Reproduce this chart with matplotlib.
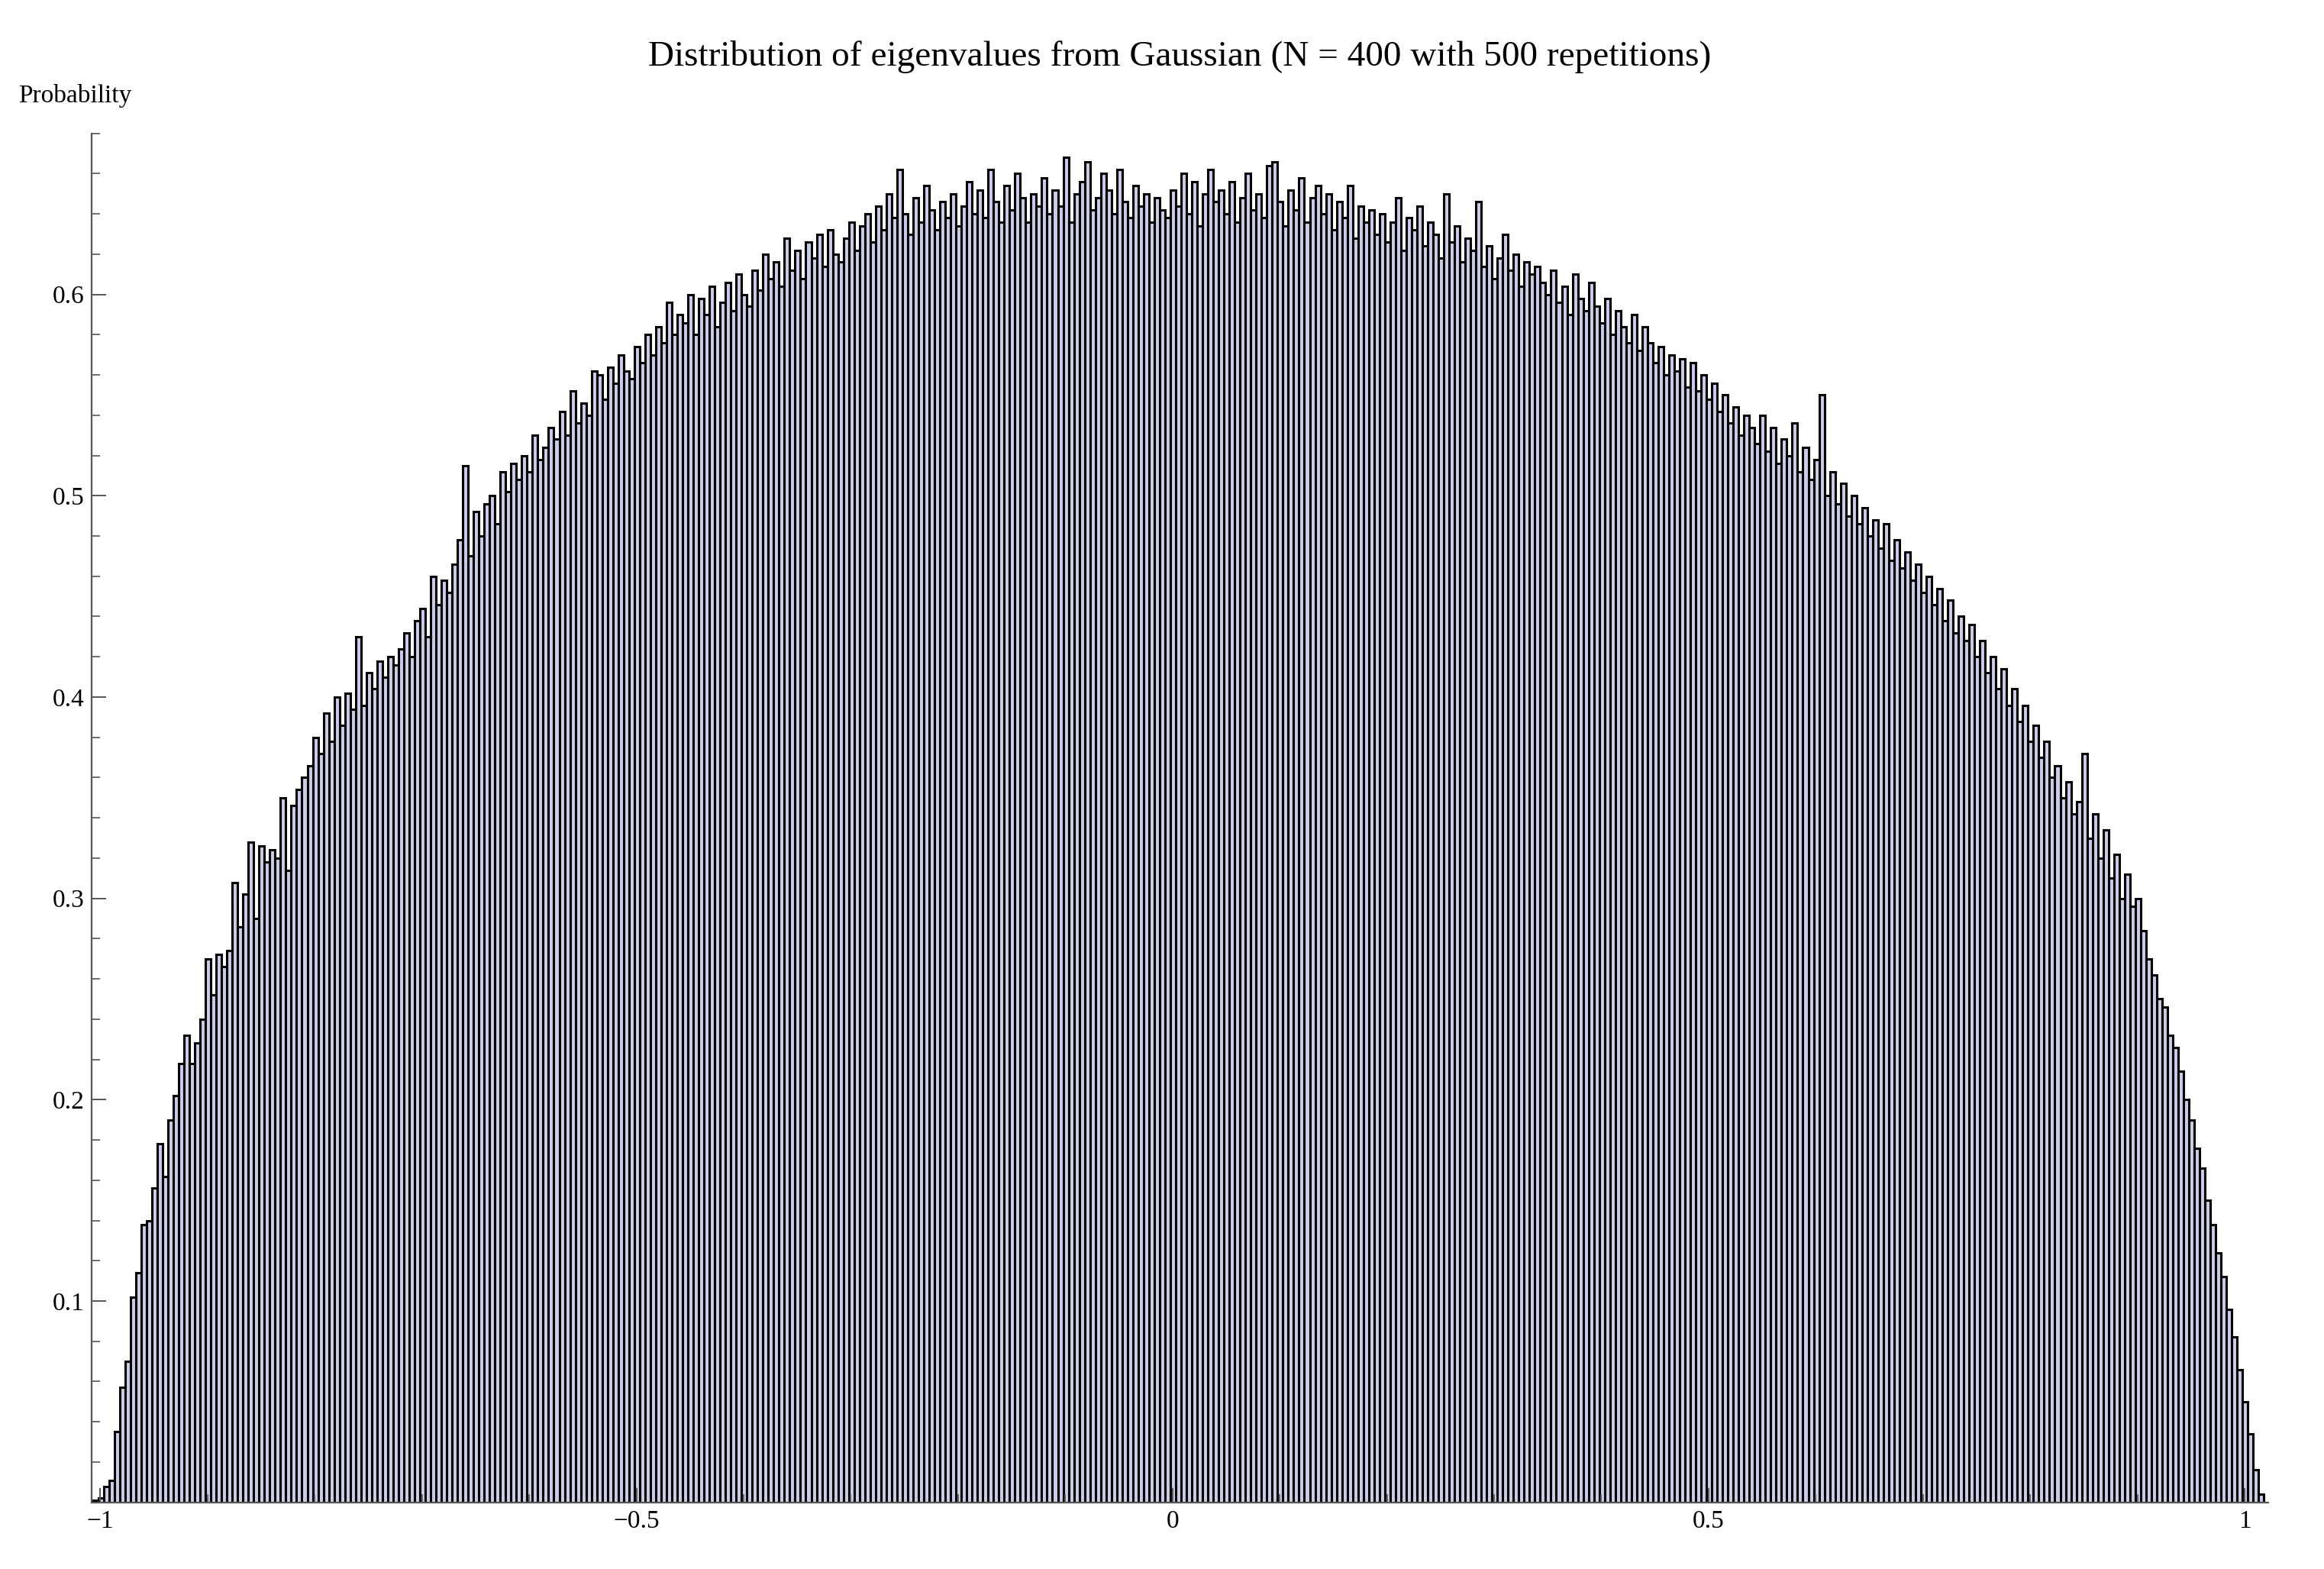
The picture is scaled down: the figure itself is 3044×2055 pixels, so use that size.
import numpy as np
from matplotlib import pyplot as plt
from matplotlib.ticker import MultipleLocator

BIN_START = -1.007
BIN_WIDTH = 0.005

# bar heights, left to right, ten bins per row (0.05 wide)
heights = [
    0.001, 0.002, 0.008, 0.011, 0.035, 0.057, 0.070, 0.102, 0.114, 0.138,
    0.140, 0.156, 0.178, 0.162, 0.190, 0.202, 0.218, 0.232, 0.218, 0.228,
    0.240, 0.270, 0.252, 0.272, 0.266, 0.274, 0.308, 0.286, 0.302, 0.328,
    0.290, 0.326, 0.318, 0.324, 0.320, 0.350, 0.314, 0.346, 0.354, 0.360,
    0.366, 0.380, 0.372, 0.392, 0.378, 0.400, 0.386, 0.402, 0.394, 0.430,
    0.396, 0.412, 0.404, 0.418, 0.410, 0.420, 0.416, 0.424, 0.432, 0.420,
    0.438, 0.444, 0.430, 0.460, 0.446, 0.458, 0.452, 0.466, 0.478, 0.515,
    0.470, 0.492, 0.480, 0.496, 0.500, 0.486, 0.512, 0.502, 0.516, 0.508,
    0.520, 0.512, 0.530, 0.518, 0.524, 0.534, 0.528, 0.542, 0.530, 0.552,
    0.536, 0.546, 0.540, 0.562, 0.560, 0.548, 0.564, 0.556, 0.570, 0.562,
    0.558, 0.574, 0.566, 0.580, 0.570, 0.584, 0.576, 0.596, 0.580, 0.590,
    0.586, 0.600, 0.580, 0.598, 0.590, 0.604, 0.584, 0.596, 0.606, 0.592,
    0.610, 0.600, 0.594, 0.612, 0.602, 0.620, 0.608, 0.616, 0.604, 0.628,
    0.612, 0.622, 0.608, 0.626, 0.618, 0.630, 0.614, 0.632, 0.620, 0.616,
    0.628, 0.636, 0.622, 0.634, 0.640, 0.626, 0.644, 0.632, 0.650, 0.638,
    0.662, 0.640, 0.630, 0.648, 0.636, 0.654, 0.642, 0.632, 0.646, 0.638,
    0.650, 0.634, 0.644, 0.656, 0.640, 0.652, 0.638, 0.662, 0.646, 0.636,
    0.654, 0.642, 0.660, 0.648, 0.636, 0.650, 0.644, 0.658, 0.640, 0.652,
    0.644, 0.668, 0.636, 0.650, 0.656, 0.666, 0.642, 0.648, 0.660, 0.652,
    0.640, 0.662, 0.646, 0.638, 0.654, 0.644, 0.650, 0.636, 0.648, 0.642,
    0.638, 0.652, 0.644, 0.660, 0.640, 0.656, 0.634, 0.650, 0.662, 0.646,
    0.652, 0.640, 0.656, 0.636, 0.648, 0.660, 0.642, 0.650, 0.638, 0.664,
    0.666, 0.646, 0.634, 0.652, 0.642, 0.658, 0.636, 0.648, 0.654, 0.640,
    0.650, 0.632, 0.646, 0.638, 0.654, 0.628, 0.644, 0.636, 0.642, 0.630,
    0.640, 0.626, 0.636, 0.648, 0.622, 0.638, 0.632, 0.644, 0.624, 0.636,
    0.630, 0.618, 0.650, 0.626, 0.634, 0.616, 0.628, 0.622, 0.646, 0.614,
    0.624, 0.608, 0.618, 0.630, 0.612, 0.620, 0.604, 0.616, 0.610, 0.614,
    0.606, 0.600, 0.612, 0.596, 0.604, 0.590, 0.610, 0.598, 0.592, 0.606,
    0.594, 0.586, 0.598, 0.580, 0.592, 0.584, 0.576, 0.590, 0.572, 0.584,
    0.576, 0.566, 0.574, 0.560, 0.570, 0.562, 0.568, 0.554, 0.566, 0.552,
    0.560, 0.548, 0.556, 0.542, 0.550, 0.536, 0.544, 0.530, 0.540, 0.534,
    0.526, 0.540, 0.522, 0.534, 0.516, 0.528, 0.520, 0.536, 0.512, 0.524,
    0.508, 0.518, 0.550, 0.500, 0.512, 0.496, 0.506, 0.490, 0.500, 0.486,
    0.494, 0.480, 0.488, 0.474, 0.486, 0.468, 0.478, 0.464, 0.472, 0.458,
    0.466, 0.452, 0.460, 0.446, 0.454, 0.438, 0.448, 0.432, 0.440, 0.428,
    0.436, 0.420, 0.428, 0.412, 0.420, 0.404, 0.414, 0.396, 0.404, 0.388,
    0.396, 0.378, 0.386, 0.370, 0.378, 0.360, 0.366, 0.350, 0.358, 0.342,
    0.348, 0.372, 0.330, 0.342, 0.320, 0.334, 0.310, 0.322, 0.300, 0.312,
    0.296, 0.300, 0.284, 0.270, 0.262, 0.250, 0.246, 0.232, 0.226, 0.214,
    0.200, 0.190, 0.176, 0.166, 0.150, 0.138, 0.124, 0.112, 0.096, 0.082,
    0.066, 0.050, 0.034, 0.016, 0.004,
]

x_ticks = [-1, -0.5, 0, 0.5, 1]
x_labels = ["\u22121", "\u22120.5", "0", "0.5", "1"]
y_ticks = [0.1, 0.2, 0.3, 0.4, 0.5, 0.6]
y_labels = ["0.1", "0.2", "0.3", "0.4", "0.5", "0.6"]

plt.rcParams["font.family"] = "Liberation Serif"

fig = plt.figure(figsize=(15.22, 10.275), dpi=200)
ax = fig.add_axes([0.0395, 0.0425, 0.9365, 0.8725])

lefts = BIN_START + BIN_WIDTH * np.arange(len(heights))
ax.bar(lefts, heights, width=BIN_WIDTH, align="edge",
       color="#c9cdea", edgecolor="black", linewidth=1.1)

ax.set_xlim(-1.008, 1.022)
ax.set_ylim(0, 0.68)
for side in ("top", "right"):
    ax.spines[side].set_visible(False)
for side in ("left", "bottom"):
    ax.spines[side].set_color("#555555")
    ax.spines[side].set_linewidth(0.8)

ax.set_xticks(x_ticks)
ax.set_xticklabels(x_labels)
ax.set_yticks(y_ticks)
ax.set_yticklabels(y_labels)
ax.xaxis.set_minor_locator(MultipleLocator(0.1))
ax.yaxis.set_minor_locator(MultipleLocator(0.02))
ax.tick_params(axis="both", which="major", direction="in", length=7,
               width=0.7, color="#555555", labelsize=12)
ax.tick_params(axis="both", which="minor", direction="in", length=4,
               width=0.6, color="#555555")

ax.set_title("Distribution of eigenvalues from Gaussian (N = 400 with 500 repetitions)",
             fontsize=17, pad=32)
fig.text(0.008, 0.935, "Probability", fontsize=12)

fig.savefig("out.png", dpi=200)
